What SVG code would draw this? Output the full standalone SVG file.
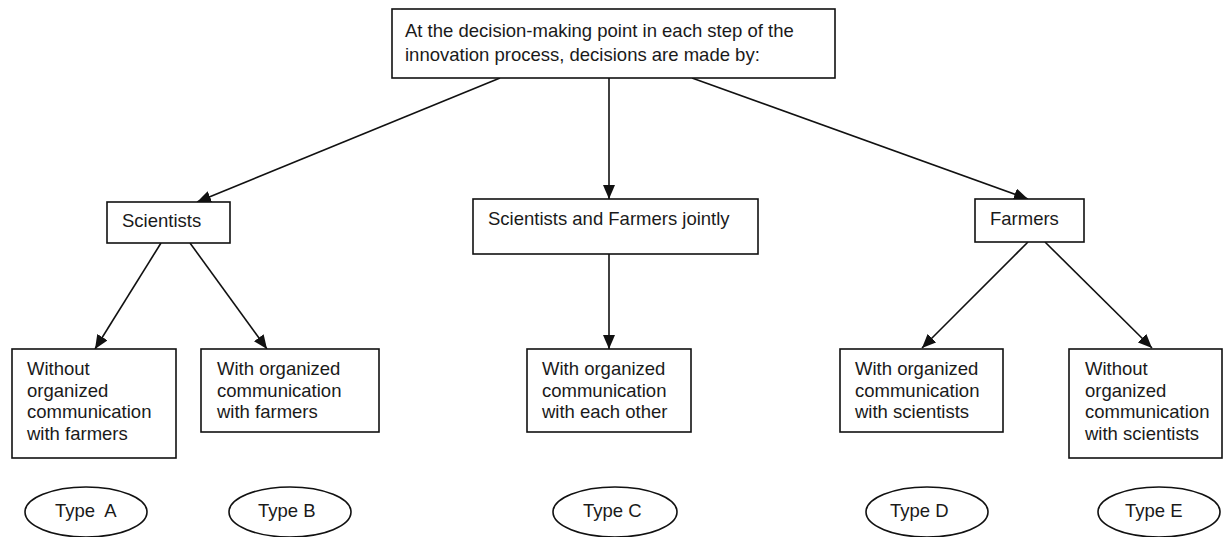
<svg xmlns="http://www.w3.org/2000/svg" width="1223" height="537" viewBox="0 0 1223 537">
<style>
text{font-family:"Liberation Sans",Arial,sans-serif;font-size:18.5px;fill:#1a1a1a}
.box{fill:#fff;stroke:#111;stroke-width:1.6}
.ell{fill:#fff;stroke:#111;stroke-width:1.6}
.con{stroke:#111;stroke-width:1.6;fill:none;marker-end:url(#ah)}
</style>
<defs>
<marker id="ah" viewBox="0 0 14 12" refX="14" refY="6" markerWidth="14" markerHeight="12" markerUnits="userSpaceOnUse" orient="auto">
<path d="M0,0 L14,6 L0,12 Z" fill="#111"/>
</marker>
</defs>
<rect width="1223" height="537" fill="#fff"/>
<g id="connectors">
<line class="con" x1="500" y1="78" x2="197" y2="202"/>
<line class="con" x1="609" y1="78" x2="609" y2="199"/>
<line class="con" x1="692" y1="78" x2="1028" y2="199"/>
<line class="con" x1="161" y1="243" x2="95" y2="349"/>
<line class="con" x1="190" y1="243" x2="267" y2="349"/>
<line class="con" x1="609" y1="254" x2="609" y2="349"/>
<line class="con" x1="1028" y1="242" x2="922" y2="348"/>
<line class="con" x1="1045" y1="242" x2="1152" y2="348"/>
</g>
<g id="top">
<rect class="box" x="392" y="9" width="443" height="69"/>
<text x="405" y="37">At the decision-making point in each step of the</text>
<text x="405" y="61">innovation process, decisions are made by:</text>
</g>
<g id="scientists">
<rect class="box" x="107" y="202" width="123" height="41"/>
<text x="122" y="227">Scientists</text>
</g>
<g id="jointly">
<rect class="box" x="473" y="199" width="285" height="55"/>
<text x="488" y="225">Scientists and Farmers jointly</text>
</g>
<g id="farmers">
<rect class="box" x="975" y="199" width="109" height="43"/>
<text x="990" y="225">Farmers</text>
</g>
<g id="boxA">
<rect class="box" x="12" y="349" width="164" height="109"/>
<text x="27" y="375">Without</text>
<text x="27" y="397">organized</text>
<text x="27" y="418">communication</text>
<text x="27" y="440">with farmers</text>
</g>
<g id="boxB">
<rect class="box" x="201" y="349" width="178" height="83"/>
<text x="217" y="375">With organized</text>
<text x="217" y="397">communication</text>
<text x="217" y="418">with farmers</text>
</g>
<g id="boxC">
<rect class="box" x="527" y="349" width="164" height="83"/>
<text x="542" y="375">With organized</text>
<text x="542" y="397">communication</text>
<text x="542" y="418">with each other</text>
</g>
<g id="boxD">
<rect class="box" x="840" y="349" width="163" height="83"/>
<text x="855" y="375">With organized</text>
<text x="855" y="397">communication</text>
<text x="855" y="418">with scientists</text>
</g>
<g id="boxE">
<rect class="box" x="1069" y="349" width="153" height="109"/>
<text x="1085" y="375">Without</text>
<text x="1085" y="397">organized</text>
<text x="1085" y="418">communication</text>
<text x="1085" y="440">with scientists</text>
</g>
<g id="typeA">
<ellipse class="ell" cx="86" cy="512" rx="61" ry="25"/>
<text x="55" y="517" xml:space="preserve">Type  A</text>
</g>
<g id="typeB">
<ellipse class="ell" cx="290" cy="512" rx="61" ry="25"/>
<text x="258" y="517">Type B</text>
</g>
<g id="typeC">
<ellipse class="ell" cx="615" cy="512" rx="62" ry="25"/>
<text x="583" y="517">Type C</text>
</g>
<g id="typeD">
<ellipse class="ell" cx="927" cy="512" rx="61" ry="25"/>
<text x="890" y="517">Type D</text>
</g>
<g id="typeE">
<ellipse class="ell" cx="1159" cy="512" rx="61" ry="25"/>
<text x="1125" y="517">Type E</text>
</g>
</svg>
